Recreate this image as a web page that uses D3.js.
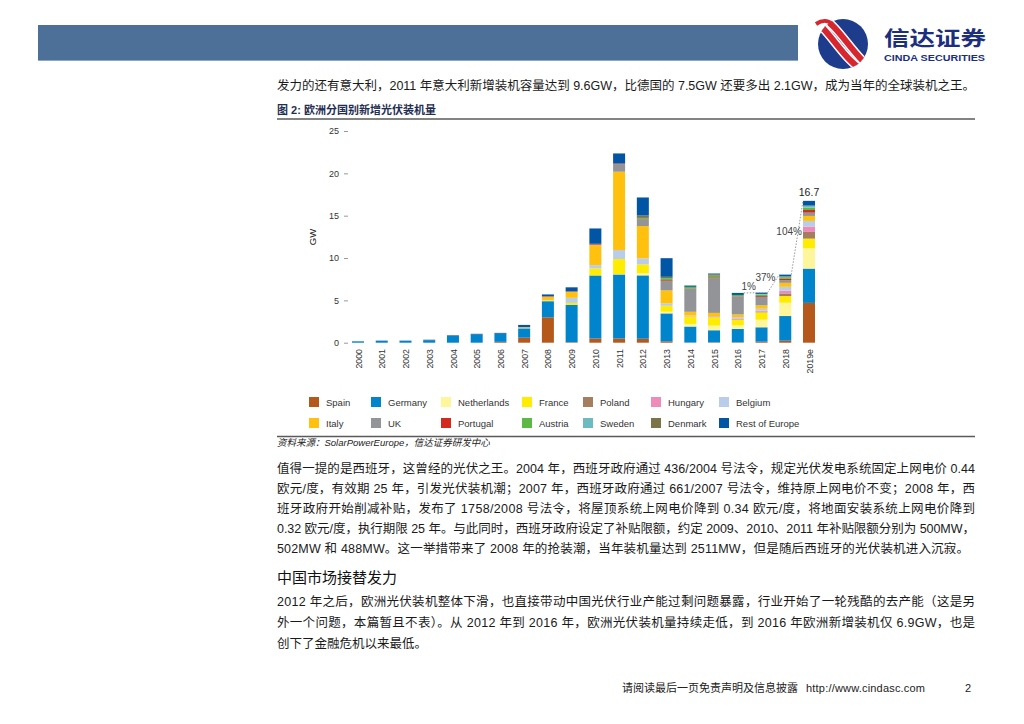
<!DOCTYPE html>
<html><head><meta charset="utf-8">
<script src="https://cdn.jsdelivr.net/npm/d3@7"></script>
<style>
html,body{margin:0;padding:0;background:#fff;}
svg{display:block;}
text{font-family:"Liberation Sans","Noto Sans CJK SC",sans-serif;}
</style></head>
<body>
<svg id="page" width="1024" height="724"></svg>
<script>
// ---------- DATA (GW) ----------
const years = ["2000","2001","2002","2003","2004","2005","2006","2007","2008","2009","2010","2011","2012","2013","2014","2015","2016","2017","2018","2019e"];
const countries = ["Spain","Germany","Netherlands","France","Poland","Hungary","Belgium","Italy","UK","Portugal","Austria","Sweden","Denmark","Rest of Europe"];
const spain       = [0,0,0,0,0,0,0.1,0.59,3.0,0.06,0.5,0.5,0.47,0.16,0.02,0.05,0.05,0.12,0.24,4.7];
const germany     = [0.15,0.2,0.2,0.25,0.8,0.95,0.95,1.1,1.9,4.4,7.44,7.56,7.48,3.3,1.89,1.42,1.57,1.7,2.91,4.05];
const netherlands = [0,0,0,0,0,0,0,0,0,0,0,0.05,0.24,0.2,0.31,0.55,0.43,0.9,1.57,2.4];
const france      = [0,0,0,0,0,0,0,0.02,0.1,0.24,0.83,1.77,1.06,0.7,0.87,0.9,0.67,0.87,0.79,1.14];
const poland      = [0,0,0,0,0,0,0,0,0,0,0,0,0,0,0,0,0.05,0.08,0.31,0.79];
const hungary     = [0,0,0,0,0,0,0,0,0,0,0,0,0,0,0.05,0.05,0.1,0.1,0.31,0.63];
const belgium     = [0,0,0,0,0,0,0,0.02,0.05,0.6,0.39,1.06,0.71,0.28,0.08,0.08,0.15,0.24,0.47,0.67];
const italy       = [0,0,0,0,0,0,0.01,0.07,0.35,0.7,2.36,9.25,3.82,1.54,0.43,0.47,0.32,0.4,0.47,0.59];
const uk          = [0,0,0,0,0,0,0,0.05,0.05,0.02,0.06,0.9,0.79,1.1,2.7,4.1,2.1,1.0,0.31,0.39];
const portugal    = [0,0,0,0,0,0,0,0,0.05,0.05,0.1,0.08,0.05,0.1,0.05,0.1,0.05,0.1,0.16,0.31];
const austria     = [0,0,0,0,0,0,0,0,0,0,0,0,0.12,0.2,0.2,0.2,0.15,0.17,0.2,0.28];
const sweden      = [0,0,0,0,0,0,0,0,0,0,0,0,0,0,0,0,0,0.08,0.05,0.2];
const denmark     = [0,0,0,0,0,0,0,0,0,0,0,0,0.28,0.2,0,0.15,0,0,0.05,0.05];
const restEurope  = [0.02,0.04,0.04,0.1,0.07,0.1,0.1,0.25,0.2,0.47,1.81,1.18,2.13,2.2,0.15,0.1,0.24,0.15,0.2,0.55];
const seriesValues = [spain,germany,netherlands,france,poland,hungary,belgium,italy,uk,portugal,austria,sweden,denmark,restEurope];
const colors = ["#B5581C","#0084CB","#FFF59A","#FFEC00","#A47E5E","#EF8BB9","#B9CDEB","#FFC10E","#939497","#D42A1E","#5DB846","#6CBBBE","#7A7447","#0055A4"];
const yTicks = [0,5,10,15,20,25];
const growthLabels = [{from:"2016",to:"2017",label:"1%"},{from:"2017",to:"2018",label:"37%"},{from:"2018",to:"2019e",label:"104%"}];
const lastTotalLabel = "16.7";

const svg = d3.select("#page");
svg.append("rect").attr("width",1024).attr("height",724).attr("fill","#fff");

// ---------- HEADER ----------
svg.append("rect").attr("x",38).attr("y",25).attr("width",760).attr("height",36).attr("fill","#4D7099");
svg.append("line").attr("x1",38).attr("x2",798).attr("y1",60.5).attr("y2",60.5).attr("stroke","#8FA6C2").attr("stroke-width",1);
// logo
const logo = svg.append("g");
const defs = svg.append("defs");
defs.append("clipPath").attr("id","lc").append("circle").attr("cx",843).attr("cy",44).attr("r",25);
logo.append("circle").attr("cx",843).attr("cy",44).attr("r",25).attr("fill","#1E3C8C");
const lg = logo.append("g").attr("clip-path","url(#lc)");
[[-6,"#fff",9],[-6,"#D7262E",6],[6,"#fff",9],[6,"#D7262E",6]].forEach(([o,c,w])=>{
  lg.append("path").attr("d",`M${812+o},${14} C${838+o},${30} ${846+o},${58} ${874+o},${74}`)
   .attr("fill","none").attr("stroke",c).attr("stroke-width",w);
});
logo.append("path").attr("d","M816,24 C822,20 828,20 832,24").attr("fill","none").attr("stroke","#D7262E").attr("stroke-width",4);
svg.append("text").attr("x",884).attr("y",46).attr("font-size",20).attr("font-weight","bold").attr("fill","#1B2F7E")
  .style("font-family","'Noto Sans CJK SC'").attr("textLength",102).attr("lengthAdjust","spacingAndGlyphs").text("信达证券");
svg.append("text").attr("x",884).attr("y",61).attr("font-size",9).attr("font-weight","bold").attr("fill","#1B2F7E")
  .attr("textLength",101).attr("lengthAdjust","spacingAndGlyphs").text("CINDA SECURITIES");

// ---------- BODY TEXT ----------
function line(txt,x,y,len,size,opt){
  const t = svg.append("text").attr("x",x).attr("y",y).attr("font-size",size||12.5).attr("fill","#1a1a1a").text(txt);
  if(len) t.attr("textLength",len).attr("lengthAdjust","spacing");
  if(opt&&opt.italic) t.attr("font-style","italic");
  if(opt&&opt.bold) t.attr("font-weight","bold");
  if(opt&&opt.fill) t.attr("fill",opt.fill);
  return t;
}
line("发力的还有意大利，2011 年意大利新增装机容量达到 9.6GW，比德国的 7.5GW 还要多出 2.1GW，成为当年的全球装机之王。",277,90,698);

// caption
line("图 2: 欧洲分国别新增光伏装机量",277,114,null,11,{bold:true,fill:"#1F2E52"});
svg.append("line").attr("x1",277).attr("x2",975).attr("y1",119).attr("y2",119).attr("stroke","#5a5a5a").attr("stroke-width",1.6);

// ---------- CHART ----------
const x = d3.scalePoint().domain(years).range([358,809]);
const y = d3.scaleLinear().domain([0,25]).range([342.7,131]);
const bw = 12;

const table = years.map((yr,i)=>{const o={year:yr}; countries.forEach((c,j)=>o[c]=seriesValues[j][i]); return o;});
const stack = d3.stack().keys(countries)(table);
const chart = svg.append("g");
chart.selectAll("g.s").data(stack).join("g").attr("fill",(d,i)=>colors[i])
  .selectAll("rect").data(d=>d).join("rect")
  .attr("x",d=>x(d.data.year)-bw/2).attr("width",bw)
  .attr("y",d=>y(d[1])).attr("height",d=>Math.max(0,y(d[0])-y(d[1])));

// y axis (ticks only)
const yAxis = d3.axisLeft(y).tickValues(yTicks).tickSize(4).tickPadding(5);
const ya = svg.append("g").attr("transform","translate(348,0)").call(yAxis);
ya.select(".domain").remove();
ya.selectAll(".tick line").attr("stroke","#999");
ya.selectAll(".tick text").attr("font-size",9).attr("fill","#333").style("font-family","'Liberation Sans'");
svg.append("text").attr("transform","translate(316,237) rotate(-90)").attr("text-anchor","middle")
  .attr("font-size",9.5).attr("fill","#222").text("GW");

// x axis labels
const xAxis = d3.axisBottom(x).tickSize(0).tickPadding(0);
const xa = svg.append("g").attr("transform","translate(0,349)").call(xAxis);
xa.select(".domain").remove();
xa.selectAll(".tick text").attr("transform","rotate(-90)").attr("text-anchor","end")
  .attr("x",0).attr("y",0).attr("dy","0.35em").attr("font-size",8.8).attr("fill","#333").style("font-family","'Liberation Sans'");

// growth annotations
const totals = {}; table.forEach(d=>totals[d.year]=d3.sum(countries,c=>d[c]));
growthLabels.forEach((g,i)=>{
  const x1 = x(g.from)+bw/2, y1 = y(totals[g.from]);
  const x2 = i===0 ? x(g.to)+bw/2 : x(g.to)-bw/2, y2 = y(totals[g.to]);
  svg.append("line").attr("x1",x1).attr("y1",y1).attr("x2",x2).attr("y2",y2)
    .attr("stroke","#999").attr("stroke-width",1).attr("stroke-dasharray","1.5,1.5");
  const mx = (x(g.from)+x(g.to))/2 + (i===0?-1:-8), my = (y1+y2)/2 - 3;
  svg.append("text").attr("x",mx).attr("y",my).attr("text-anchor","middle").attr("font-size",10).attr("fill","#444").text(g.label);
});
svg.append("text").attr("x",x("2019e")).attr("y",y(totals["2019e"])-5).attr("text-anchor","middle")
  .attr("font-size",10.5).attr("fill","#222").text(lastTotalLabel);

// legend
const legX = [309,371,441,522,583,651,719];
const legY = [402,423];
countries.forEach((c,i)=>{
  const col = i%7, row = Math.floor(i/7);
  const g = svg.append("g").attr("transform",`translate(${legX[col]},${legY[row]})`);
  g.append("rect").attr("x",0).attr("y",-5).attr("width",10).attr("height",10).attr("fill",colors[i]);
  g.append("text").attr("x",17).attr("y",3.5).attr("font-size",9.5).attr("fill","#333").text(c);
});

// source
svg.append("line").attr("x1",277).attr("x2",975).attr("y1",436.5).attr("y2",436.5).attr("stroke","#5a5a5a").attr("stroke-width",1.6);
line("资料来源：SolarPowerEurope，信达证券研发中心",277,446,null,9.5,{italic:true,fill:"#222"});

// paragraph 2
const p2 = [
 "值得一提的是西班牙，这曾经的光伏之王。2004 年，西班牙政府通过 436/2004 号法令，规定光伏发电系统固定上网电价 0.44",
 "欧元/度，有效期 25 年，引发光伏装机潮；2007 年，西班牙政府通过 661/2007 号法令，维持原上网电价不变；2008 年，西",
 "班牙政府开始削减补贴，发布了 1758/2008 号法令，将屋顶系统上网电价降到 0.34 欧元/度，将地面安装系统上网电价降到",
 "0.32 欧元/度，执行期限 25 年。与此同时，西班牙政府设定了补贴限额，约定 2009、2010、2011 年补贴限额分别为 500MW，",
 "502MW 和 488MW。这一举措带来了 2008 年的抢装潮，当年装机量达到 2511MW，但是随后西班牙的光伏装机进入沉寂。"
];
p2.forEach((t,i)=>line(t,277,473+i*20,i<4?698:692));
line("中国市场接替发力",277,583,null,15,{fill:"#111"});
const p3 = [
 "2012 年之后，欧洲光伏装机整体下滑，也直接带动中国光伏行业产能过剩问题暴露，行业开始了一轮残酷的去产能（这是另",
 "外一个问题，本篇暂且不表）。从 2012 年到 2016 年，欧洲光伏装机量持续走低，到 2016 年欧洲新增装机仅 6.9GW，也是",
 "创下了金融危机以来最低。"
];
p3.forEach((t,i)=>line(t,277,606+i*21,i<2?698:null));

// footer
line("请阅读最后一页免责声明及信息披露",622,692,176,11,{fill:"#222"});
line("http://www.cindasc.com",806,692,119,11,{fill:"#222"});
line("2",965,692,null,11,{fill:"#222"});
</script>
</body></html>
